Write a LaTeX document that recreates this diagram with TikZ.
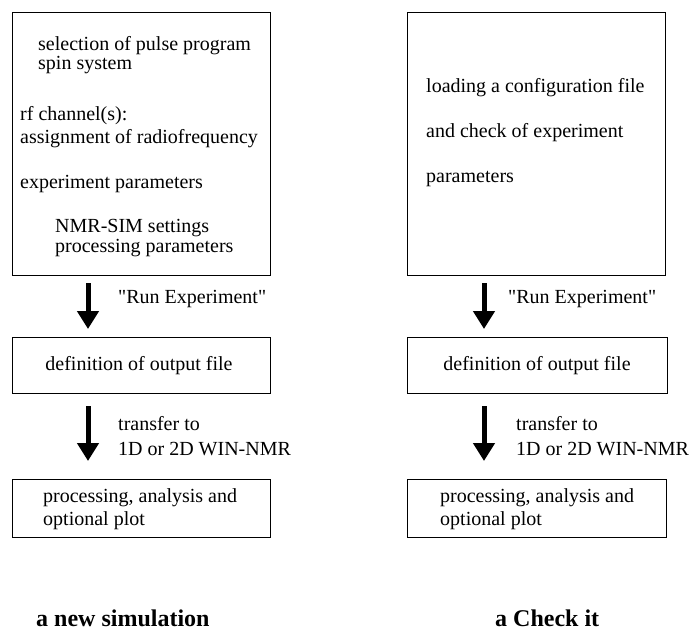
\documentclass[tikz,border=0pt]{standalone}
\usepackage{fontspec}
\setmainfont{Liberation Serif}[Ligatures=TeXOff]
\usetikzlibrary{arrows.meta}
\begin{document}
\begin{tikzpicture}[x=1pt,y=-1pt,
  box/.style={draw,line width=1.3pt},
  txt/.style={anchor=base west,inner sep=0pt,font=\fontsize{20}{24}\selectfont},
  ctxt/.style={anchor=base,inner sep=0pt,font=\fontsize{20}{24}\selectfont},
  title/.style={anchor=base west,inner sep=0pt,font=\fontsize{24}{28}\selectfont\bfseries},
  flow/.style={line width=5pt,-{Triangle[width=21pt,length=18pt]}}]
\useasboundingbox (0,0) rectangle (691,633);

% ---- left column: a new simulation ----
\node[box,inner sep=0pt,minimum width=258pt,minimum height=263pt,anchor=north west] (L1) at (12,12) {};
\node[txt] (l1a) at (38,50)  {selection of pulse program};
\node[txt] (l1b) at (38,69)  {spin system};
\node[txt] (l1c) at (20,120) {rf channel(s):};
\node[txt] (l1d) at (20,143) {assignment of radiofrequency};
\node[txt] (l1e) at (20,188) {experiment parameters};
\node[txt] (l1f) at (55,232) {NMR-SIM settings};
\node[txt] (l1g) at (55,252) {processing parameters};

\node[box,inner sep=0pt,minimum width=258pt,minimum height=56pt,anchor=north west] (L2) at (12,337) {};
\node[ctxt] (l2a) at (139,370) {definition of output file};

\node[box,inner sep=0pt,minimum width=258pt,minimum height=58pt,anchor=north west] (L3) at (12,479) {};
\node[txt] (l3a) at (43,502) {processing, analysis and};
\node[txt] (l3b) at (43,525) {optional plot};

\coordinate (la1s) at (88,283);
\coordinate (la1e) at (88,329);
\coordinate (la2s) at (88,406);
\coordinate (la2e) at (88,461);
\draw[flow] (la1s) -- (la1e);
\draw[flow] (la2s) -- (la2e);
\node[txt] (lr) at (118,303) {"Run Experiment"};
\node[txt] (lt1) at (118,430) {transfer to};
\node[txt] (lt2) at (118,455) {1D or 2D WIN-NMR};

\node[title] (ltitle) at (36,626) {a new simulation};

% ---- right column: a Check it ----
\node[box,inner sep=0pt,minimum width=258pt,minimum height=263pt,anchor=north west] (R1) at (407,12) {};
\node[txt] (r1a) at (426,92)  {loading a configuration file};
\node[txt] (r1b) at (426,137) {and check of experiment};
\node[txt] (r1c) at (426,182) {parameters};

\node[box,inner sep=0pt,minimum width=260pt,minimum height=56pt,anchor=north west] (R2) at (407,337) {};
\node[ctxt] (r2a) at (537,370) {definition of output file};

\node[box,inner sep=0pt,minimum width=259pt,minimum height=58pt,anchor=north west] (R3) at (407,479) {};
\node[txt] (r3a) at (440,502) {processing, analysis and};
\node[txt] (r3b) at (440,525) {optional plot};

\coordinate (ra1s) at (484,283);
\coordinate (ra1e) at (484,329);
\coordinate (ra2s) at (484,406);
\coordinate (ra2e) at (484,461);
\draw[flow] (ra1s) -- (ra1e);
\draw[flow] (ra2s) -- (ra2e);
\node[txt] (rr) at (508,303) {"Run Experiment"};
\node[txt] (rt1) at (516,430) {transfer to};
\node[txt] (rt2) at (516,455) {1D or 2D WIN-NMR};

\node[title] (rtitle) at (495,626) {a Check it};
\end{tikzpicture}
\end{document}
